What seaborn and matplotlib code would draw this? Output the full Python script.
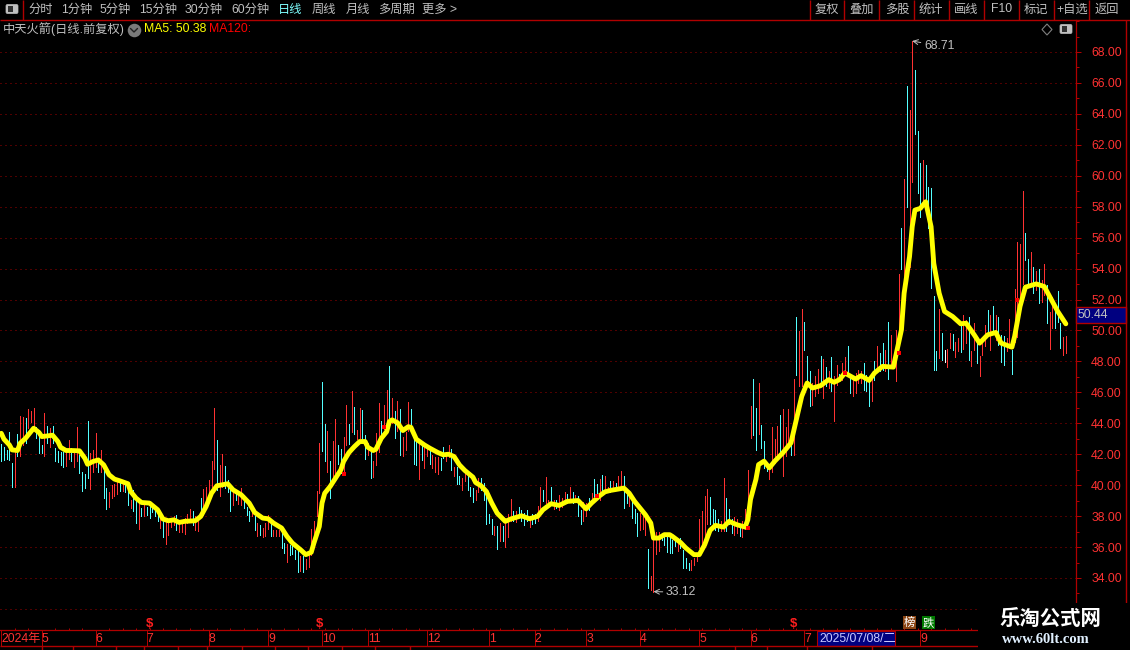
"""
plot.py — 中天火箭 daily chart: high/low bars with the MA5 line, on a black terminal layout.
"""

import matplotlib
matplotlib.use("Agg")
import matplotlib.pyplot as plt
import pandas as pd
import seaborn as sns
from matplotlib.patches import FancyBboxPatch, Polygon, Rectangle
from matplotlib.ticker import MultipleLocator

# daily high, low and direction (u = up, d = down, f = flat), ten bars per row
bar_high = [
    42.65, 42.49, 42.28, 43.46, 41.42, 42.39, 43.29, 44.47, 44.39, 44.37,
    44.92, 44.80, 44.99, 43.78, 43.57, 42.60, 44.67, 43.83, 43.68, 43.83,
    42.39, 42.22, 42.17, 42.17, 42.39, 42.92, 42.39, 42.17, 43.78, 41.96,
    40.84, 40.73, 44.15, 42.06, 42.28, 43.40, 41.74, 42.28, 41.20, 39.81,
    39.59, 40.02, 40.09, 40.34, 40.41, 40.24, 40.13, 39.70, 39.05, 39.70,
    39.27, 38.95, 38.52, 38.95, 38.60, 38.73, 38.84, 38.52, 38.41, 38.19,
    37.87, 37.76, 37.66, 37.87, 37.98, 38.04, 37.76, 37.66, 37.87, 38.13,
    38.45, 38.34, 38.02, 37.98, 39.16, 39.76, 39.91, 40.34, 41.57, 44.99,
    42.92, 41.31, 42.02, 41.25, 40.34, 40.02, 39.81, 39.59, 39.53, 39.81,
    39.38, 38.62, 38.30, 38.62, 37.98, 37.55, 37.44, 37.23, 37.55, 38.09,
    37.55, 37.12, 37.12, 37.12, 37.01, 36.26, 36.22, 36.15, 36.15, 35.83,
    35.72, 35.40, 35.40, 35.25, 35.51, 37.18, 37.66, 39.63, 42.71, 46.67,
    43.96, 43.51, 41.57, 42.86, 44.28, 42.60, 42.32, 43.10, 45.18, 43.96,
    46.09, 45.08, 43.57, 44.97, 44.86, 43.25, 42.75, 42.17, 41.53, 43.35,
    45.33, 44.17, 45.18, 46.15, 47.70, 45.66, 44.80, 45.44, 44.92, 43.10,
    43.46, 45.40, 44.92, 43.46, 42.92, 42.92, 42.75, 42.60, 42.54, 42.39,
    41.96, 41.85, 41.85, 41.78, 42.45, 42.17, 42.60, 42.34, 41.20, 41.16,
    40.56, 40.49, 40.88, 40.60, 39.91, 39.81, 39.70, 40.45, 40.45, 40.13,
    39.70, 38.13, 37.81, 37.33, 37.33, 37.55, 37.38, 37.87, 38.15, 39.12,
    38.30, 38.30, 38.62, 38.41, 38.19, 38.37, 37.98, 38.15, 38.15, 38.67,
    39.91, 39.70, 40.52, 39.05, 39.91, 39.05, 39.05, 39.38, 39.16, 39.53,
    39.44, 39.85, 39.57, 39.38, 39.27, 38.41, 38.88, 38.84, 39.16, 39.48,
    40.41, 40.09, 40.41, 40.67, 40.56, 39.91, 40.28, 40.28, 40.17, 40.56,
    40.92, 40.62, 39.70, 39.48, 39.05, 38.45, 38.19, 38.19, 38.09, 38.09,
    35.89, 34.11, 37.01, 36.95, 36.95, 36.80, 36.80, 36.86, 36.69, 36.47,
    36.37, 36.37, 36.58, 35.83, 35.29, 34.97, 35.18, 35.29, 35.51, 37.79,
    38.30, 39.33, 39.72, 39.25, 38.49, 38.37, 37.79, 37.68, 40.47, 39.18,
    38.43, 37.79, 37.94, 37.79, 37.51, 37.68, 38.49, 41.01, 45.14, 46.86,
    44.99, 46.60, 43.91, 42.84, 41.44, 41.33, 43.74, 43.01, 43.85, 44.56,
    44.95, 43.76, 44.95, 43.16, 46.86, 50.86, 49.94, 51.38, 50.54, 48.37,
    47.40, 46.60, 47.03, 47.51, 48.32, 48.15, 47.63, 47.36, 48.28, 47.03,
    47.78, 47.20, 47.89, 48.28, 48.97, 47.03, 46.82, 47.25, 47.46, 47.36,
    47.89, 47.14, 46.82, 47.14, 48.00, 48.97, 48.54, 49.18, 48.75, 50.54,
    49.72, 48.11, 50.04, 53.66, 56.60, 59.78, 65.78, 64.24, 68.71, 66.86,
    62.88, 60.80, 61.01, 60.69, 59.25, 59.18, 52.24, 48.69, 51.38, 49.83,
    48.75, 48.82, 49.83, 49.78, 49.23, 49.51, 50.37, 50.97, 50.69, 50.86,
    48.65, 50.47, 49.40, 48.32, 49.40, 50.37, 51.33, 51.01, 51.55, 51.01,
    50.90, 49.72, 49.61, 49.51, 50.73, 48.73, 52.71, 55.72, 55.57, 58.99,
    56.32, 54.65, 55.08, 54.11, 53.85, 54.00, 53.25, 54.32, 52.97, 51.20,
    52.17, 51.27, 52.54, 50.45, 49.59, 49.63,
]
bar_low = [
    41.57, 41.63, 41.70, 41.63, 39.85, 39.91, 41.89, 41.89, 42.60, 42.71,
    43.68, 44.11, 43.57, 43.03, 42.06, 42.06, 41.89, 42.71, 42.49, 42.71,
    41.57, 41.51, 41.31, 41.16, 41.25, 41.68, 41.57, 41.16, 41.53, 40.77,
    39.63, 39.81, 40.45, 39.76, 40.82, 41.16, 40.82, 40.88, 39.16, 38.47,
    38.58, 39.16, 39.27, 39.44, 39.63, 39.63, 39.59, 38.73, 38.52, 38.30,
    37.55, 37.18, 37.98, 37.98, 38.05, 37.87, 38.24, 37.98, 37.66, 37.23,
    36.65, 36.22, 36.80, 37.29, 37.40, 37.12, 36.95, 36.95, 36.86, 37.55,
    37.66, 37.40, 37.12, 37.05, 38.09, 38.09, 38.62, 39.05, 39.91, 41.05,
    39.70, 39.27, 39.87, 39.81, 39.59, 38.30, 38.69, 39.01, 38.80, 38.73,
    38.52, 38.09, 37.70, 37.98, 37.08, 36.69, 36.75, 36.62, 36.69, 37.16,
    36.69, 36.69, 36.69, 36.69, 35.94, 35.61, 35.01, 35.51, 35.57, 35.25,
    34.37, 34.43, 34.37, 34.58, 34.69, 35.51, 36.04, 37.98, 39.48, 42.22,
    41.53, 40.88, 39.16, 40.13, 40.77, 41.38, 40.77, 40.67, 42.60, 42.67,
    43.46, 43.31, 42.97, 43.03, 42.82, 41.68, 41.96, 40.47, 40.52, 41.31,
    42.17, 42.92, 43.61, 43.78, 44.22, 44.00, 43.03, 43.51, 41.96, 41.89,
    42.28, 43.51, 43.46, 41.38, 41.31, 40.41, 41.63, 41.14, 41.89, 41.38,
    41.10, 40.88, 40.73, 40.99, 41.74, 41.59, 41.85, 40.99, 40.60, 40.09,
    40.09, 39.70, 40.24, 39.70, 39.31, 38.88, 39.05, 39.59, 39.70, 39.01,
    37.51, 37.55, 36.86, 36.80, 35.89, 36.37, 36.37, 35.98, 36.62, 37.66,
    37.66, 37.59, 37.98, 37.66, 37.44, 37.66, 37.27, 37.51, 37.55, 37.66,
    38.30, 38.95, 38.84, 38.62, 38.73, 38.45, 38.52, 38.41, 38.58, 38.84,
    38.84, 38.95, 38.84, 38.95, 38.02, 37.51, 37.70, 37.98, 38.41, 38.95,
    39.27, 39.27, 39.05, 39.59, 39.59, 39.59, 39.59, 39.70, 39.70, 39.70,
    39.81, 38.52, 38.84, 38.67, 37.87, 37.55, 36.69, 37.12, 37.18, 36.80,
    33.35, 33.25, 33.12, 35.57, 35.72, 36.47, 36.15, 35.66, 35.61, 35.61,
    36.04, 35.72, 35.94, 34.65, 34.65, 34.49, 34.54, 34.86, 35.08, 35.96,
    36.06, 36.49, 37.46, 37.46, 37.14, 37.10, 37.03, 37.03, 37.03, 37.03,
    37.46, 36.88, 36.77, 36.92, 36.71, 36.65, 37.14, 37.79, 43.03, 43.27,
    42.30, 43.33, 42.41, 41.12, 40.90, 40.37, 40.84, 41.44, 41.66, 41.98,
    40.58, 41.87, 42.41, 41.98, 41.98, 47.10, 46.39, 46.39, 48.75, 46.60,
    45.10, 45.20, 45.74, 45.96, 46.60, 45.63, 46.39, 46.28, 46.06, 44.13,
    46.49, 46.80, 46.82, 47.14, 47.25, 45.96, 45.74, 45.96, 46.60, 46.60,
    46.17, 46.06, 45.10, 45.42, 46.82, 47.36, 47.36, 47.46, 47.36, 46.86,
    47.68, 47.57, 46.71, 48.97, 54.00, 53.05, 58.00, 54.13, 59.61, 62.73,
    58.86, 57.35, 58.11, 58.43, 56.60, 52.73, 47.46, 47.42, 48.21, 48.11,
    47.94, 47.63, 48.86, 48.75, 48.28, 48.65, 48.58, 48.82, 49.18, 48.11,
    47.72, 48.75, 47.89, 47.03, 48.43, 48.97, 49.83, 48.75, 49.94, 49.40,
    49.08, 47.94, 47.78, 48.65, 48.86, 47.18, 49.27, 49.59, 52.06, 53.03,
    54.58, 52.82, 53.03, 52.39, 52.60, 51.78, 51.85, 52.28, 50.45, 48.80,
    50.13, 50.13, 50.56, 48.88, 48.41, 48.52,
]
bar_dir = [
    "ddddduduud", "uuudddudud", "dddduuduud", "ddduuududd",
    "uuuududdud", "dududddddu", "duuuuduuuu", "uduuduuuuu",
    "duuddduduu", "dddududuuu", "duuudduddd", "duduuuuuud",
    "duduudduud", "uduudduduu", "uduudududu", "uuddduduud",
    "uuudduudud", "duuddduudd", "dddududuuu", "dudddduddu",
    "uduududuuu", "dududduudu", "dduduududu", "udduddduuu",
    "duuuuddddd", "dudddduuuu", "uuudddduud", "dduuduuuud",
    "duddduuuud", "uuududuudd", "duuudududu", "uduudduuuu",
    "dddududdud", "uuuududuud", "ddudddddud", "fuuduuduud",
    "uuduuududu", "ddduuduuuu", "ddududuudu", "uddduu",
]

# MA5 line at these bars
ma5_bar = [
    0, 1, 3, 4, 6, 7, 9, 11, 12, 14, 15, 17, 19, 21, 22, 24, 26, 29, 31, 32,
    34, 36, 38, 40, 42, 44, 47, 48, 50, 52, 55, 58, 60, 62, 64, 66, 68, 72,
    74, 76, 78, 80, 84, 86, 89, 92, 94, 97, 99, 101, 104, 106, 108, 111, 113,
    115, 116, 118, 119, 120, 122, 124, 126, 127, 129, 131, 133, 135, 136, 138,
    139, 141, 143, 144, 145, 147, 149, 151, 152, 154, 157, 159, 162, 164, 166,
    168, 170, 172, 175, 176, 178, 180, 182, 184, 187, 189, 193, 196, 199, 201,
    204, 207, 210, 214, 217, 219, 222, 224, 226, 231, 233, 235, 237, 239, 241,
    242, 244, 246, 248, 249, 252, 254, 257, 259, 261, 263, 265, 268, 270, 273,
    276, 277, 278, 280, 281, 283, 285, 287, 290, 293, 295, 297, 299, 301, 304,
    307, 309, 311, 313, 317, 319, 322, 324, 327, 331, 332, 334, 335, 337, 338,
    339, 341, 343, 345, 346, 348, 350, 353, 356, 358, 361, 363, 366, 369, 371,
    375, 376, 378, 380, 384, 387, 390, 392, 395,
]
ma5_price = [
    43.35, 42.97, 42.60, 42.28, 42.24, 42.71, 43.03, 43.46, 43.68, 43.40,
    43.14, 43.18, 43.23, 42.82, 42.45, 42.24, 42.24, 42.22, 41.74, 41.35,
    41.53, 41.63, 41.31, 40.67, 40.39, 40.28, 40.09, 39.59, 39.16, 38.88,
    38.84, 38.41, 37.81, 37.70, 37.76, 37.59, 37.66, 37.70, 37.98, 38.62,
    39.48, 39.96, 40.09, 39.70, 39.38, 38.84, 38.24, 37.87, 37.83, 37.55,
    37.23, 36.69, 36.26, 35.83, 35.51, 35.66, 36.26, 37.33, 38.84, 39.48,
    39.91, 40.45, 40.99, 41.53, 42.11, 42.49, 42.82, 42.82, 42.45, 42.24,
    42.32, 43.03, 43.46, 44.11, 44.22, 44.04, 43.53, 43.78, 43.74, 42.97,
    42.60, 42.39, 42.11, 41.96, 42.00, 41.85, 41.31, 40.95, 40.52, 40.17,
    39.96, 39.59, 38.84, 38.19, 37.66, 37.81, 38.02, 37.83, 37.98, 38.41,
    38.80, 38.69, 38.95, 39.01, 38.47, 38.84, 39.31, 39.57, 39.66, 39.81,
    39.48, 38.95, 38.52, 38.09, 37.55, 36.58, 36.58, 36.80, 36.80, 36.69,
    36.30, 35.94, 35.51, 35.51, 36.15, 37.08, 37.40, 37.29, 37.66, 37.44,
    37.29, 37.76, 39.08, 40.37, 41.33, 41.55, 41.12, 41.55, 42.09, 42.73,
    44.24, 45.74, 46.60, 46.28, 46.43, 46.82, 46.65, 46.82, 47.25, 46.86,
    47.08, 46.77, 47.25, 47.68, 47.63, 48.43, 50.04, 52.41, 54.77, 56.71,
    57.78, 57.89, 58.32, 56.71, 54.34, 52.41, 51.23, 50.90, 50.43, 50.47,
    49.72, 49.18, 49.72, 49.87, 49.18, 48.92, 49.61, 51.55, 52.80, 53.01,
    52.84, 51.87, 51.23, 50.43,
]

# small open/close stubs that show on top of the MA line
stub_bar = [127, 142, 221, 277, 313, 333, 377]
stub_price = [40.72, 43.76, 39.30, 37.23, 47.25, 48.54, 51.96]

price_ticks = [32, 34, 36, 38, 40, 42, 44, 46, 48, 50, 52, 54, 56, 58, 60, 62, 64, 66, 68]
month_bars = [0, 15, 35, 54, 77, 99, 119, 136, 158, 181, 198, 217, 237, 259, 278, 298, 341]
month_labels = ["2024年", "5", "6", "7", "8", "9", "10", "11", "12", "1", "2", "3", "4", "5", "6", "7", "9"]
signal_bars = [55, 118, 294]

high_bar, high_value = 338, 68.71
low_bar, low_value = 242, 33.12
last_price = "50.44"
cursor_date = "2025/07/08/二"

left_tabs = ["分时", "1分钟", "5分钟", "15分钟", "30分钟", "60分钟", "日线", "周线", "月线", "多周期", "更多 >"]
left_tabs_x = [28, 61, 100, 139, 185, 231, 278, 312, 346, 378, 422]
right_tabs = ["复权", "叠加", "多股", "统计", "画线", "F10", "标记", "+自选", "返回"]
right_tabs_x = [827, 862, 897, 931, 966, 1002, 1036, 1072, 1107]
right_dividers = [810, 844, 879, 914, 949, 984, 1019, 1054, 1089]
footer_ticks = [42, 73, 116, 144, 178, 207, 242, 275, 308, 342, 375, 410, 735, 767, 807, 872]

RED = "#ff3232"
CYAN = "#54ffff"
FRAME = "#b00000"
GRID = "#a00000"
SILVER = "#c0c0c0"
DIR_COLOURS = {"u": RED, "d": CYAN, "f": "#ffffff"}
SPACING = 2.695  # pixels per bar
PX_PER_UNIT = 15.47

sns.set_theme(style="dark", rc={"axes.facecolor": "black", "figure.facecolor": "black"})
plt.rcParams["font.family"] = ["Liberation Sans", "Noto Sans CJK SC", "DejaVu Sans"]

fig = plt.figure(figsize=(11.3, 6.5), dpi=100)
AX_LEFT, AX_RIGHT, AX_TOP, AX_BOTTOM = 0, 1075.5, 20, 630
ax = fig.add_axes([AX_LEFT / 1130, 1 - AX_BOTTOM / 650, (AX_RIGHT - AX_LEFT) / 1130, (AX_BOTTOM - AX_TOP) / 650])
ax.set_facecolor("black")

bars = pd.DataFrame({"bar": range(len(bar_high)), "high": bar_high, "low": bar_low, "dir": list("".join(bar_dir))})
ax.vlines(
    bars["bar"], bars["low"], bars["high"],
    colors=bars["dir"].map(DIR_COLOURS).tolist(), linewidth=0.72, antialiased=False, zorder=2,
)
sns.lineplot(
    x=ma5_bar, y=ma5_price, color="#ffff00", linewidth=3.5, ax=ax, zorder=3,
    estimator=None, sort=False, solid_joinstyle="round",
)
ax.scatter(stub_bar, stub_price, marker="s", s=5, color="#ff0000", linewidths=0, zorder=4)

ax.set_xlim(-1.3 / SPACING, (AX_RIGHT - 1.3) / SPACING)
ax.set_ylim(68 - (AX_BOTTOM - 52) / PX_PER_UNIT, 68 + (52 - AX_TOP) / PX_PER_UNIT)
ax.set_xlabel("")
ax.set_ylabel("")

ax.yaxis.tick_right()
ax.set_yticks(price_ticks)
# the 32.00 label sits under the watermark block
ax.set_yticklabels([f"{p:.2f}" if p > 32 else "" for p in price_ticks], fontsize=8.8, color=RED)
ax.yaxis.set_minor_locator(MultipleLocator(1))
ax.tick_params(axis="y", which="major", length=3.6, width=0.72, color=FRAME, pad=7.7, right=True)
ax.tick_params(axis="y", which="minor", length=2.2, width=0.72, color=FRAME, right=True)
ax.grid(False)
ax.yaxis.grid(True, which="major", color=GRID, linewidth=0.72, linestyle=(0, (1, 4)))
ax.set_axisbelow(True)

ax.set_xticks(month_bars)
ax.set_xticklabels(month_labels, fontsize=8.8, color=RED, ha="left")
ax.xaxis.set_minor_locator(MultipleLocator(5))
ax.tick_params(axis="x", which="major", length=11.5, width=0.72, color=FRAME, pad=-9, bottom=True)
ax.tick_params(axis="x", which="minor", length=1.5, width=0.72, color=FRAME, direction="in", bottom=True)
for side in ["top", "left"]:
    ax.spines[side].set_visible(False)
for side in ["right", "bottom"]:
    ax.spines[side].set_color(FRAME)
    ax.spines[side].set_linewidth(0.9)

ax.annotate(
    f"{high_value:.2f}", xy=(high_bar, high_value), xytext=(8.5, -3.5), textcoords="offset points",
    color=SILVER, fontsize=8.8, va="center", annotation_clip=False,
    arrowprops={"arrowstyle": "->", "color": SILVER, "linewidth": 0.7, "shrinkA": 0, "shrinkB": 0},
)
ax.annotate(
    f"{low_value:.2f}", xy=(low_bar, low_value), xytext=(9, -0.5), textcoords="offset points",
    color=SILVER, fontsize=8.8, va="center",
    arrowprops={"arrowstyle": "->", "color": SILVER, "linewidth": 0.7, "shrinkA": 0, "shrinkB": 0},
)

# terminal chrome, laid out in pixels on a full-figure overlay
ui = fig.add_axes([0, 0, 1, 1], zorder=5)
ui.set_xlim(0, 1130)
ui.set_ylim(650, 0)
ui.axis("off")
ui.patch.set_alpha(0)

ui.hlines(19.5, 0, 1130, color=FRAME, linewidth=1)
ui.vlines([23] + right_dividers, 0, 19.5, color=FRAME, linewidth=1)
ui.vlines(1126, 19.5, 603, color=FRAME, linewidth=1)
for label, x in zip(left_tabs, left_tabs_x):
    ui.text(x, 9.5, label, color="#7fffff" if label == "日线" else SILVER, fontsize=8.8, va="center")
for label, x in zip(right_tabs, right_tabs_x):
    ui.text(x, 9.5, label, color=SILVER, fontsize=8.8, va="center", ha="center")


def panel_icon(x, y):
    ui.add_patch(FancyBboxPatch((x, y), 11, 8, boxstyle="round,pad=0.5,rounding_size=1.5", fc=SILVER, ec=SILVER, lw=0.5))
    ui.add_patch(Rectangle((x + 1, y + 1), 5.5, 6, fc="#303030", ec="none"))


panel_icon(6.5, 5)
panel_icon(1060.5, 25)
ui.add_patch(Polygon([(1047, 24), (1052, 29.5), (1047, 35), (1042, 29.5)], fc="none", ec="#808080", lw=0.8))

ui.text(3, 29.5, "中天火箭(日线.前复权)", color=SILVER, fontsize=8.8, va="center")
ui.scatter([134], [30], s=95, color="#7a7a7a", linewidths=0)
ui.plot([130.5, 134, 137.5], [28.5, 32, 28.5], color="#222222", linewidth=1)
ui.text(144, 29.5, "MA5: 50.38", color="#ffff00", fontsize=8.8, va="center")
ui.text(209, 29.5, "MA120:", color="#ff0000", fontsize=8.8, va="center")

# last price flag on the axis
ui.add_patch(Rectangle((1075.5, 307), 50.5, 16, fc="#000080", ec=FRAME, lw=1))
ui.text(1077, 315, last_price, color=SILVER, fontsize=8.8, va="center")

# time strip below the chart
ui.hlines(646, 0, 978, color=FRAME, linewidth=1)
ui.vlines(footer_ticks, 646, 650, color=FRAME, linewidth=1)
ui.add_patch(Rectangle((817, 631), 78, 15, fc="#000080", ec=FRAME, lw=0.8))
ui.text(819, 638.5, cursor_date, color="#c8c8ff", fontsize=8.8, va="center")
for bar in signal_bars:
    ui.text(1.3 + SPACING * bar, 624, "$", color="#ff1e1e", fontsize=9.5, fontweight="bold", ha="center", va="center")
ui.add_patch(Rectangle((903, 616), 13, 13, fc="#8b4513", ec="none"))
ui.text(909.5, 622.5, "榜", color="white", fontsize=8.2, ha="center", va="center")
ui.add_patch(Rectangle((922, 616), 13, 13, fc="#007a00", ec="none"))
ui.text(928.5, 622.5, "跌", color="white", fontsize=8.2, ha="center", va="center")

# watermark block in the bottom right corner
ui.add_patch(Rectangle((978, 603), 152, 47, fc="black", ec="none", zorder=6))
ui.text(1050, 619, "乐淘公式网", color="white", fontsize=14.7, fontweight="bold", ha="center", va="center", zorder=7)
ui.text(1046, 639.5, "www.60lt.com", color="#e0f0ff", fontsize=10.5, fontweight="bold",
        family="Liberation Serif", ha="center", va="center", zorder=7)

fig.savefig("out.png", dpi=100, facecolor="black")
plt.close(fig)
